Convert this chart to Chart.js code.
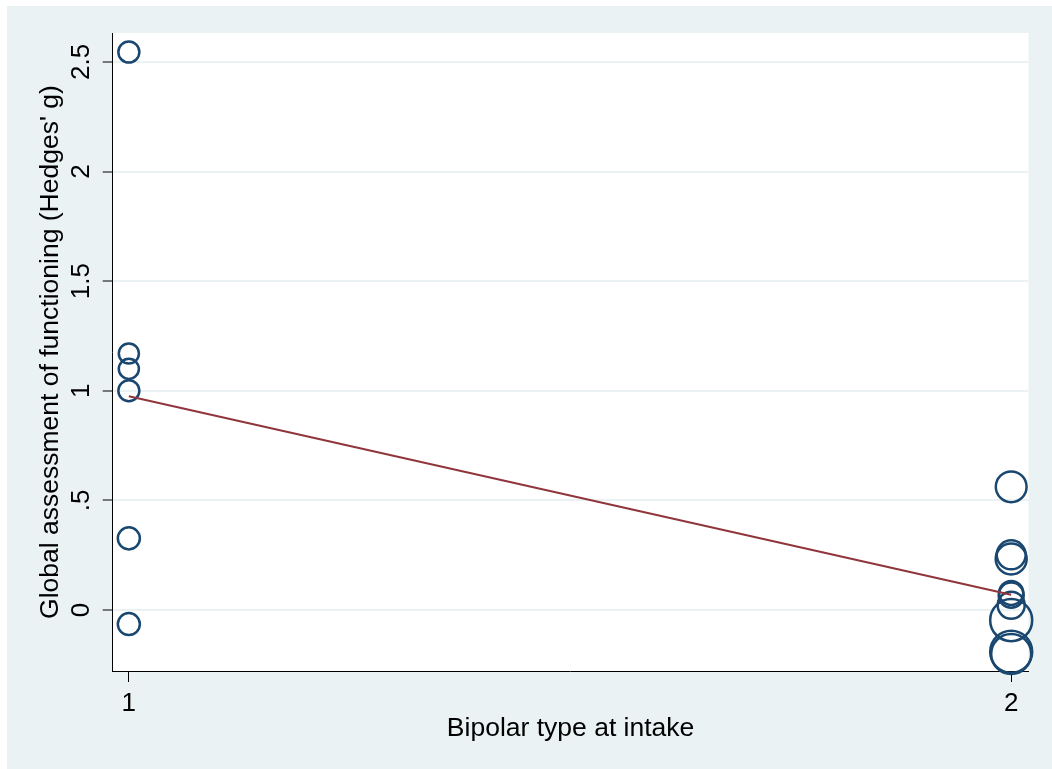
<!DOCTYPE html>
<html>
<head>
<meta charset="utf-8">
<title>Bipolar type at intake vs GAF effect size</title>
<script src="https://cdn.jsdelivr.net/npm/chart.js@4/dist/chart.umd.min.js"></script>
<style>
  html, body { margin: 0; padding: 0; background: #ffffff; }
  canvas { display: block; }
</style>
</head>
<body>
<canvas id="chart" width="1052" height="769"></canvas>
<script>
// Study-level effect sizes (Hedges' g) by bipolar type at intake
const bipolarType = [1, 1, 1, 1, 1, 1, 2, 2, 2, 2, 2, 2, 2, 2, 2];
const hedgesG     = [2.545, 1.17, 1.10, 1.00, 0.327, -0.064,
                     0.562, 0.252, 0.233, 0.078, 0.068, 0.022, -0.046, -0.19, -0.20];
// Relative study weights (bubble area)
const studyWeight = [6.9, 6.3, 6.3, 6.9, 7.6, 7.6,
                     14.8, 13.1, 15.0, 9.0, 9.8, 11.4, 27.6, 27.6, 25.0];

// Fitted meta-regression line
const fitX = [1, 2];
const fitY = [0.975, 0.070];

// Axis ticks
const xTickValues = [1, 2];
const xTickLabels = ['1', '2'];
const yTickValues = [0, 0.5, 1, 1.5, 2, 2.5];
const yTickLabels = ['0', '.5', '1', '1.5', '2', '2.5'];

const xTitle = 'Bipolar type at intake';
const yTitle = "Global assessment of functioning (Hedges' g)";

const PANEL = '#eaf2f3';
const NAVY = '#1a476f';
const MAROON = '#90353b';
const FONT = '"Liberation Sans", Arial, Helvetica, sans-serif';

const bubbles = bipolarType.map((t, i) => ({ x: t, y: hedgesG[i], r: 4 * Math.sqrt(studyWeight[i]) }));
const fitLine = fitX.map((x, i) => ({ x: x, y: fitY[i] }));

// Background panel and white plot region
const backdrop = {
  id: 'backdrop',
  beforeDraw(chart) {
    const { ctx, chartArea: a } = chart;
    ctx.save();
    ctx.fillStyle = '#ffffff';
    ctx.fillRect(0, 0, chart.width, chart.height);
    ctx.fillStyle = PANEL;
    ctx.fillRect(7, 6, chart.width - 7, chart.height - 6);
    ctx.fillStyle = '#ffffff';
    ctx.fillRect(a.left, a.top, a.right - a.left, a.bottom - a.top);
    ctx.restore();
  }
};

// Tick labels and axis titles
const axisText = {
  id: 'axisText',
  afterDraw(chart) {
    const { ctx, chartArea: a } = chart;
    const xs = chart.scales.x, ys = chart.scales.y;
    ctx.save();
    ctx.fillStyle = '#000000';
    ctx.textAlign = 'center';
    ctx.textBaseline = 'middle';
    ctx.font = '26px ' + FONT;
    // y tick labels, rotated
    yTickValues.forEach((v, i) => {
      const py = ys.getPixelForValue(v);
      ctx.save();
      ctx.translate(82, py);
      ctx.rotate(-Math.PI / 2);
      ctx.fillText(yTickLabels[i], 0, 0);
      ctx.restore();
    });
    // x tick labels
    xTickValues.forEach((v, i) => {
      ctx.fillText(xTickLabels[i], xs.getPixelForValue(v), 704);
    });
    // titles
    ctx.font = '26.5px ' + FONT;
    ctx.fillText(xTitle, (a.left + a.right) / 2, 729);
    ctx.save();
    ctx.translate(51, (a.top + a.bottom) / 2);
    ctx.rotate(-Math.PI / 2);
    ctx.fillText(yTitle, 0, 0);
    ctx.restore();
    ctx.restore();
  }
};

new Chart(document.getElementById('chart'), {
  type: 'bubble',
  data: {
    datasets: [
      {
        type: 'line',
        data: fitLine,
        borderColor: MAROON,
        borderWidth: 2,
        pointRadius: 0,
        fill: false,
        order: 0,
        clip: false
      },
      {
        type: 'bubble',
        data: bubbles,
        backgroundColor: 'rgba(0,0,0,0)',
        borderColor: NAVY,
        borderWidth: 2.5,
        order: 1,
        clip: false
      }
    ]
  },
  options: {
    responsive: false,
    animation: false,
    devicePixelRatio: 1,
    layout: { padding: { left: 102.7, right: 15.3, top: 33, bottom: 87 } },
    plugins: { legend: { display: false }, tooltip: { enabled: false } },
    scales: {
      x: {
        type: 'linear',
        min: 0.9817,
        max: 2.0196,
        afterBuildTicks: (s) => { s.ticks = xTickValues.map(v => ({ value: v })); },
        ticks: { display: false },
        grid: { drawOnChartArea: false, drawTicks: true, tickLength: 11, tickColor: '#000000', tickWidth: 1 },
        border: { display: true, color: '#000000', width: 1 }
      },
      y: {
        type: 'linear',
        min: -0.278,
        max: 2.632,
        afterBuildTicks: (s) => { s.ticks = yTickValues.map(v => ({ value: v })); },
        ticks: { display: false },
        grid: { color: PANEL, lineWidth: 2, drawTicks: true, tickLength: 10, tickColor: '#000000', tickWidth: 1 },
        border: { display: true, color: '#000000', width: 1 }
      }
    }
  },
  plugins: [backdrop, axisText]
});
</script>
</body>
</html>
